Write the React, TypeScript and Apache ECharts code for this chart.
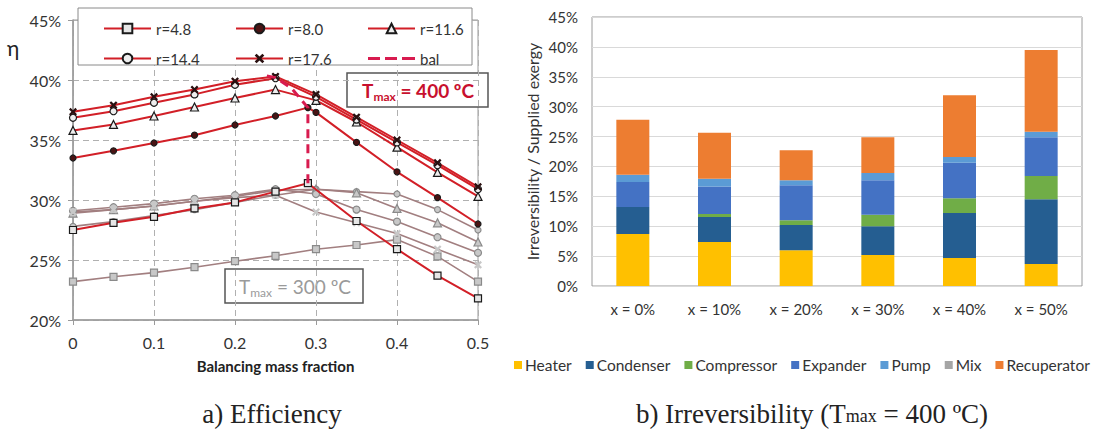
import React, { useEffect, useRef } from 'react';
import * as echarts from 'echarts';

// ---- a) Efficiency vs balancing mass fraction ----
const FRACTION = [0, 0.05, 0.1, 0.15, 0.2, 0.25, 0.3, 0.35, 0.4, 0.45, 0.5];
const FRACTION_R48 = [0, 0.05, 0.1, 0.15, 0.2, 0.25, 0.29, 0.35, 0.4, 0.45, 0.5];
const FRACTION_R80 = [0, 0.05, 0.1, 0.15, 0.2, 0.25, 0.29, 0.3, 0.35, 0.4, 0.45, 0.5];

// Tmax = 400 ºC (%)
const ETA400_R48 = [27.5, 28.1, 28.6, 29.3, 29.8, 30.7, 31.4, 28.25, 25.9, 23.7, 21.8];
const ETA400_R80 = [33.5, 34.1, 34.75, 35.4, 36.25, 37.0, 37.7, 37.3, 34.8, 32.35, 30.2, 28.0];
const ETA400_R116 = [35.8, 36.3, 37.0, 37.75, 38.5, 39.2, 38.3, 36.5, 34.4, 32.3, 30.3];
const ETA400_R144 = [36.85, 37.4, 38.1, 38.8, 39.6, 40.15, 38.6, 36.7, 34.8, 32.9, 30.9];
const ETA400_R176 = [37.35, 37.9, 38.6, 39.2, 39.9, 40.3, 38.8, 36.9, 35.0, 33.1, 31.1];

// Tmax = 300 ºC (%)
const ETA300_R48 = [23.2, 23.6, 23.95, 24.4, 24.9, 25.35, 25.9, 26.25, 26.7, 25.3, 23.2];
const ETA300_R80 = [27.8, 28.2, 28.7, 29.2, 29.8, 30.4, 30.9, 30.7, 30.5, 29.2, 27.5];
const ETA300_R116 = [28.9, 29.2, 29.5, 29.9, 30.3, 30.8, 30.9, 30.6, 29.3, 28.1, 26.5];
const ETA300_R144 = [29.1, 29.4, 29.7, 30.1, 30.4, 30.9, 30.5, 29.2, 28.2, 26.9, 25.6];
const ETA300_R176 = [29.0, 29.2, 29.5, 29.9, 30.2, 30.4, 29.0, 28.1, 27.2, 25.9, 24.6];

// balanced operating points
const BAL_X = [0.29, 0.29, 0.27, 0.25, 0.235];
const BAL_Y = [31.4, 37.7, 39.3, 40.2, 40.4];

const ETA_TICKS = [20, 25, 30, 35, 40, 45];

// ---- b) Irreversibility breakdown (% of supplied exergy) ----
const CASES = ['x = 0%', 'x = 10%', 'x = 20%', 'x = 30%', 'x = 40%', 'x = 50%'];
const HEATER = [8.7, 7.35, 6.0, 5.2, 4.7, 3.7];
const CONDENSER = [4.5, 4.2, 4.2, 4.8, 7.5, 10.8];
const COMPRESSOR = [0, 0.5, 0.8, 1.9, 2.5, 3.9];
const EXPANDER = [4.2, 4.6, 5.85, 5.8, 5.9, 6.5];
const PUMP = [1.2, 1.3, 0.85, 1.2, 1.0, 0.9];
const MIX = [0, 0, 0, 0, 0, 0];
const RECUPERATOR = [9.2, 7.7, 5.0, 6.0, 10.3, 13.7];

const SANS = 'Lato, "Open Sans", sans-serif';
const SERIF = '"Liberation Serif", "DejaVu Serif", serif';
const RED = '#d21f27';
const ROSE = '#a27f80';
const BAL_RED = '#d81b4f';
const X_MARK = 'path://M2,0 L5,3 L8,0 L10,2 L7,5 L10,8 L8,10 L5,7 L2,10 L0,8 L3,5 L0,2 Z';
const DASH_ICON = 'path://M0,5h12v3h-12z M17,5h12v3h-12z M34,5h13v3h-13z';

const zip = (xs: number[], ys: number[]) => ys.map((y, i) => [xs[i], y]);

type Mark = { symbol: string; size: number; fill: string };
const MARKS: Record<string, Mark> = {
  r48: { symbol: 'rect', size: 7, fill: '#e6e6e6' },
  r80: { symbol: 'circle', size: 6, fill: '#4a1414' },
  r116: { symbol: 'triangle', size: 8, fill: '#eeeeee' },
  r144: { symbol: 'circle', size: 7, fill: '#eeeeee' },
  r176: { symbol: X_MARK, size: 8, fill: '#2a1010' },
};

function lineSeries(name: string, data: number[][], mark: Mark, hot: boolean) {
  return {
    name,
    type: 'line',
    xAxisIndex: 0,
    yAxisIndex: 0,
    data,
    symbol: mark.symbol,
    symbolSize: mark.size,
    lineStyle: { color: hot ? RED : ROSE, width: hot ? 2 : 1.6 },
    itemStyle: {
      color: hot ? mark.fill : '#c8c8c8',
      borderColor: hot ? '#1a1a1a' : '#8a8a8a',
      borderWidth: mark.symbol === X_MARK ? 0 : 1.2,
    },
    z: hot ? 3 : 2,
  };
}

function barSeries(name: string, data: number[], color: string) {
  return {
    name,
    type: 'bar',
    stack: 'irr',
    xAxisIndex: 1,
    yAxisIndex: 1,
    data,
    barWidth: 33,
    itemStyle: { color },
  };
}

export default function App() {
  const ref = useRef<HTMLDivElement>(null);

  useEffect(() => {
    if (!ref.current) return;
    const chart = echarts.init(ref.current, undefined, { renderer: 'svg' });

    const legendCol = (left: number, data: any[]) => ({
      orient: 'vertical',
      left,
      top: 16,
      itemWidth: 47,
      itemHeight: 12,
      itemGap: 15,
      data,
      textStyle: { fontFamily: SANS, fontSize: 15, color: '#333' },
      z: 5,
    });

    const option: any = {
      animation: false,
      backgroundColor: '#ffffff',
      textStyle: { fontFamily: SANS },
      grid: [
        { left: 73, right: 619, top: 20, bottom: 115, show: true, borderColor: '#9a9a9a', borderWidth: 1 },
        { left: 592, right: 15, top: 17, bottom: 149, show: true, borderColor: '#9a9a9a', borderWidth: 1 },
      ],
      xAxis: [
        {
          type: 'value',
          gridIndex: 0,
          min: 0,
          max: 0.5,
          interval: 0.1,
          name: 'Balancing mass fraction',
          nameLocation: 'middle',
          nameGap: 38,
          nameTextStyle: { fontFamily: SANS, fontSize: 15, fontWeight: 'bold', color: '#222' },
          axisLine: { lineStyle: { color: '#9a9a9a', width: 1.5 } },
          axisTick: { show: true, length: 5, lineStyle: { color: '#9a9a9a' } },
          axisLabel: {
            fontFamily: SANS,
            fontSize: 16,
            color: '#333',
            margin: 14,
            formatter: (v: number) => (v === 0 ? '0' : (Math.round(v * 10) / 10).toString()),
          },
          splitLine: { show: true, lineStyle: { color: '#b0b0b0', type: [6, 4] } },
        },
        {
          type: 'category',
          gridIndex: 1,
          data: CASES,
          axisLine: { show: false },
          axisTick: { show: false },
          axisLabel: { fontFamily: SANS, fontSize: 15, color: '#333', margin: 15 },
        },
      ],
      yAxis: [
        {
          type: 'value',
          gridIndex: 0,
          min: ETA_TICKS[0],
          max: ETA_TICKS[ETA_TICKS.length - 1],
          interval: 5,
          axisLine: { show: true, lineStyle: { color: '#9a9a9a', width: 1.5 } },
          axisTick: { show: true, length: 5, lineStyle: { color: '#9a9a9a' } },
          axisLabel: { fontFamily: SANS, fontSize: 16, color: '#333', margin: 12, formatter: '{value}%' },
          splitLine: { show: true, lineStyle: { color: '#b0b0b0', type: [6, 4] } },
        },
        {
          type: 'value',
          gridIndex: 1,
          min: 0,
          max: 45,
          interval: 5,
          name: 'Irreversibility / Supplied exergy',
          nameLocation: 'middle',
          nameGap: 52,
          nameTextStyle: { fontFamily: SANS, fontSize: 16, color: '#333' },
          axisLine: { show: false },
          axisTick: { show: false },
          axisLabel: { fontFamily: SANS, fontSize: 15, color: '#333', margin: 14, formatter: '{value}%' },
          splitLine: { show: true, lineStyle: { color: '#d9d9d9', width: 1 } },
        },
      ],
      legend: [
        legendCol(98, ['r=4.8', 'r=14.4']),
        legendCol(230, ['r=8.0', 'r=17.6']),
        legendCol(362, ['r=11.6', { name: 'bal', icon: DASH_ICON, itemStyle: { color: BAL_RED } }]),
        {
          left: 509,
          top: 352,
          width: 700,
          itemWidth: 8,
          itemHeight: 8,
          itemGap: 14,
          icon: 'rect',
          data: ['Heater', 'Condenser', 'Compressor', 'Expander', 'Pump', 'Mix', 'Recuperator'],
          textStyle: { fontFamily: SANS, fontSize: 15.5, color: '#333', padding: [0, 0, 0, -2] },
        },
      ],
      series: [
        lineSeries('r=4.8 (300 ºC)', zip(FRACTION, ETA300_R48), MARKS.r48, false),
        lineSeries('r=8.0 (300 ºC)', zip(FRACTION, ETA300_R80), MARKS.r80, false),
        lineSeries('r=11.6 (300 ºC)', zip(FRACTION, ETA300_R116), MARKS.r116, false),
        lineSeries('r=14.4 (300 ºC)', zip(FRACTION, ETA300_R144), MARKS.r144, false),
        lineSeries('r=17.6 (300 ºC)', zip(FRACTION, ETA300_R176), MARKS.r176, false),
        lineSeries('r=4.8', zip(FRACTION_R48, ETA400_R48), MARKS.r48, true),
        lineSeries('r=8.0', zip(FRACTION_R80, ETA400_R80), MARKS.r80, true),
        lineSeries('r=11.6', zip(FRACTION, ETA400_R116), MARKS.r116, true),
        lineSeries('r=14.4', zip(FRACTION, ETA400_R144), MARKS.r144, true),
        lineSeries('r=17.6', zip(FRACTION, ETA400_R176), MARKS.r176, true),
        {
          name: 'bal',
          type: 'line',
          xAxisIndex: 0,
          yAxisIndex: 0,
          data: zip(BAL_X, BAL_Y),
          symbol: 'none',
          lineStyle: { color: BAL_RED, width: 3, type: [9, 6] },
          itemStyle: { color: BAL_RED },
          z: 4,
        },
        barSeries('Heater', HEATER, '#ffc000'),
        barSeries('Condenser', CONDENSER, '#255e91'),
        barSeries('Compressor', COMPRESSOR, '#70ad47'),
        barSeries('Expander', EXPANDER, '#4472c4'),
        barSeries('Pump', PUMP, '#5b9bd5'),
        barSeries('Mix', MIX, '#a5a5a5'),
        barSeries('Recuperator', RECUPERATOR, '#ed7d31'),
      ],
      graphic: [
        {
          type: 'rect',
          z: 3,
          shape: { x: 78, y: 8, width: 394, height: 57 },
          style: { fill: '#ffffff', stroke: '#8a8a8a', lineWidth: 1 },
        },
        {
          type: 'text',
          x: 13,
          y: 47,
          style: { text: 'η', fontFamily: SANS, fontSize: 21, fill: '#222', align: 'center', verticalAlign: 'middle' },
        },
        {
          type: 'group',
          z: 20,
          children: [
            {
              type: 'rect',
              shape: { x: 347, y: 73, width: 141, height: 34 },
              style: { fill: '#ffffff', stroke: '#555', lineWidth: 1.5 },
            },
            {
              type: 'text',
              x: 418,
              y: 90,
              style: {
                text: '{a|T}{b|max}{a| = 400 ºC}',
                align: 'center',
                verticalAlign: 'middle',
                rich: {
                  a: { fontFamily: SANS, fontSize: 19, fontWeight: 'bold', fill: '#c8102e', lineHeight: 24 },
                  b: { fontFamily: SANS, fontSize: 12, fontWeight: 'bold', fill: '#c8102e', verticalAlign: 'bottom' },
                },
              },
            },
          ],
        },
        {
          type: 'group',
          z: 20,
          children: [
            {
              type: 'rect',
              shape: { x: 225, y: 269, width: 138, height: 34 },
              style: { fill: '#ffffff', stroke: '#555', lineWidth: 1.5 },
            },
            {
              type: 'text',
              x: 295,
              y: 286,
              style: {
                text: '{a|T}{b|max}{a| = 300 ºC}',
                align: 'center',
                verticalAlign: 'middle',
                rich: {
                  a: { fontFamily: SANS, fontSize: 19, fill: '#9a9a9a', lineHeight: 24 },
                  b: { fontFamily: SANS, fontSize: 12, fill: '#9a9a9a', verticalAlign: 'bottom' },
                },
              },
            },
          ],
        },
        {
          type: 'text',
          x: 272,
          y: 414,
          style: { text: 'a) Efficiency', fontFamily: SERIF, fontSize: 27, fill: '#222', align: 'center', verticalAlign: 'middle' },
        },
        {
          type: 'text',
          x: 812,
          y: 414,
          style: {
            text: '{n|b) Irreversibility (T}{s|max}{n| = 400 ºC)}',
            align: 'center',
            verticalAlign: 'middle',
            rich: {
              n: { fontFamily: SERIF, fontSize: 27, fill: '#222', lineHeight: 30 },
              s: { fontFamily: SERIF, fontSize: 18, fill: '#222', verticalAlign: 'bottom', padding: [0, 0, 4, 0] },
            },
          },
        },
      ],
    };

    chart.setOption(option);
    return () => chart.dispose();
  }, []);

  return <div ref={ref} style={{ position: 'absolute', left: 0, top: 0, width: 1097, height: 435 }} />;
}
